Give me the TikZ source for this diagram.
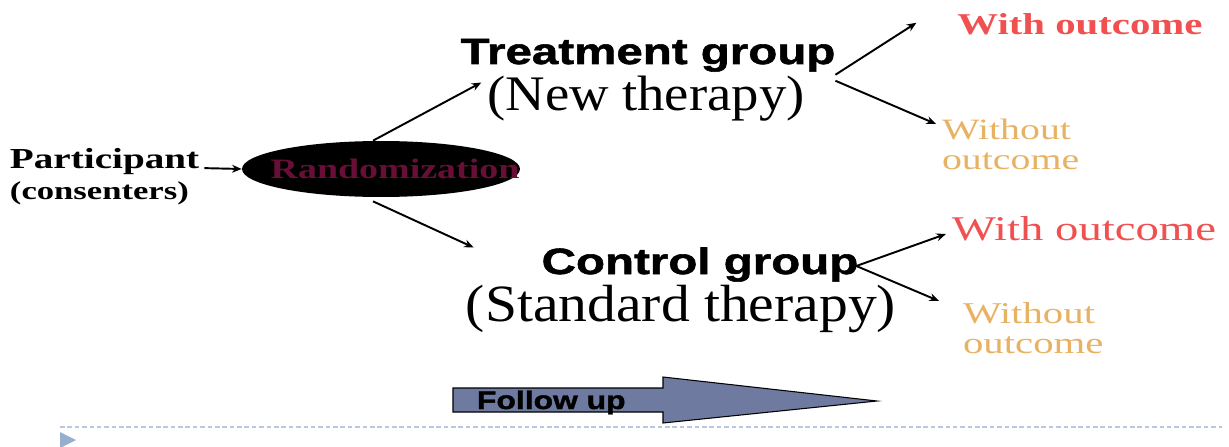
\documentclass[tikz,border=0pt]{standalone}
\usepackage{fontspec}
\setmainfont{Liberation Serif}
\newfontfamily\lblserif[FakeStretch=1.35]{Liberation Serif}
\newfontfamily\therserif[FakeStretch=1.1]{Liberation Serif}
\newfontfamily\grpsans[FakeStretch=1.3,BoldFeatures={FakeBold=1.5}]{Liberation Sans}
\newfontfamily\fusans[FakeStretch=1.25,BoldFeatures={FakeBold=1.5}]{Liberation Sans}
\usetikzlibrary{arrows.meta, positioning, shapes.geometric, calc}

\definecolor{outred}{RGB}{240,80,80}
\definecolor{outtan}{RGB}{232,178,100}
\definecolor{randtxt}{RGB}{105,15,55}
\definecolor{fufill}{RGB}{110,122,160}
\definecolor{sepblue}{RGB}{185,200,222}
\definecolor{bulblue}{RGB}{150,175,205}

\begin{document}
\begin{tikzpicture}[
    x=0.02cm, y=-0.02cm,
    lbl/.style={inner sep=0pt, outer sep=0pt},
    grp/.style={lbl, anchor=base, font=\grpsans\bfseries\fontsize{20.8}{24}\selectfont},
    ther/.style={lbl, anchor=base, font=\therserif\fontsize{28.3}{32}\selectfont},
    with/.style={lbl, anchor=base, text=outred},
    without/.style={lbl, anchor=north west, align=left, text=outtan},
    arr/.style={-{Stealth[length=5.5pt, width=4.5pt]}, line width=1.1pt}
  ]
    \useasboundingbox (0,0) rectangle (1229,446);

    % participants and randomization
    \node[lbl, anchor=base west, font=\lblserif\bfseries\fontsize{16.5}{18}\selectfont] (part) at (10,168) {Participant};
    \node[lbl, anchor=base west, font=\lblserif\bfseries\fontsize{14.6}{16}\selectfont] (cons) at (10,199) {(consenters)};
    \node[ellipse, fill=black, inner sep=0pt, minimum width=5.56cm, minimum height=1.12cm,
          text=randtxt, font=\lblserif\bfseries\fontsize{16}{18}\selectfont] (rand) at (381,169)
          {\makebox[0pt]{\hspace{16pt}Randomization}};

    % the two arms
    \node[grp] (trt) at (648,64) {Treatment group};
    \node[ther] (newther) at (646,111) {(New therapy)};
    \node[grp] (ctl) at (700,274) {Control group};
    \node[ther, font=\therserif\fontsize{29.8}{32}\selectfont] (stdther) at (681,321) {(Standard therapy)};

    % outcomes
    \node[with, font=\lblserif\bfseries\fontsize{17.2}{19}\selectfont] (with1) at (1080,35) {With outcome};
    \node[without, font=\lblserif\fontsize{16.8}{17}\selectfont] (wo1) at (942,119) {Without\\outcome};
    \node[with, font=\lblserif\fontsize{19.7}{22}\selectfont] (with2) at (1084,240) {With outcome};
    \node[without, font=\lblserif\fontsize{17.2}{17}\selectfont] (wo2) at (963,303) {Without\\outcome};

    \draw[arr, shorten <=3pt] (part.base east) -- (rand.west);
    \draw[arr] ($(rand.north)+(-8,0)$) -- ($(newther.north west)+(-6,6)$);
    \draw[arr] ($(rand.south)+(-8,4)$) -- ($(ctl.north west)+(-68,0)$);
    \draw[arr] ($(trt.south east)+(0,3)$) -- ($(with1.west)+(-41,-2)$);
    \draw[arr] ($(trt.south east)+(0,9)$) -- ($(wo1.north west)+(-6,5)$);
    \draw[arr] ($(ctl.base east)+(-2,-8)$) -- ($(with2.base west)+(-6,-6)$);
    \draw[arr] ($(ctl.base east)+(-2,-8)$) -- ($(wo2.north west)+(-24,-2)$);

    % follow up
    \draw[fill=fufill, line width=0.6pt] (453,388) -- (663,388) -- (663,377) -- (877,401)
      -- (663,423) -- (663,412) -- (453,412) -- cycle;
    \node[lbl, anchor=base west, font=\fusans\bfseries\fontsize{14.5}{16}\selectfont] (fu) at (477,409) {Follow up};

    \draw[sepblue, line width=1pt, dash pattern=on 2.6pt off 1.6pt] (60,427) -- (1222,427);
    \fill[bulblue] (60,432) -- (76,440) -- (60,448) -- cycle;
  \end{tikzpicture}
\end{document}
